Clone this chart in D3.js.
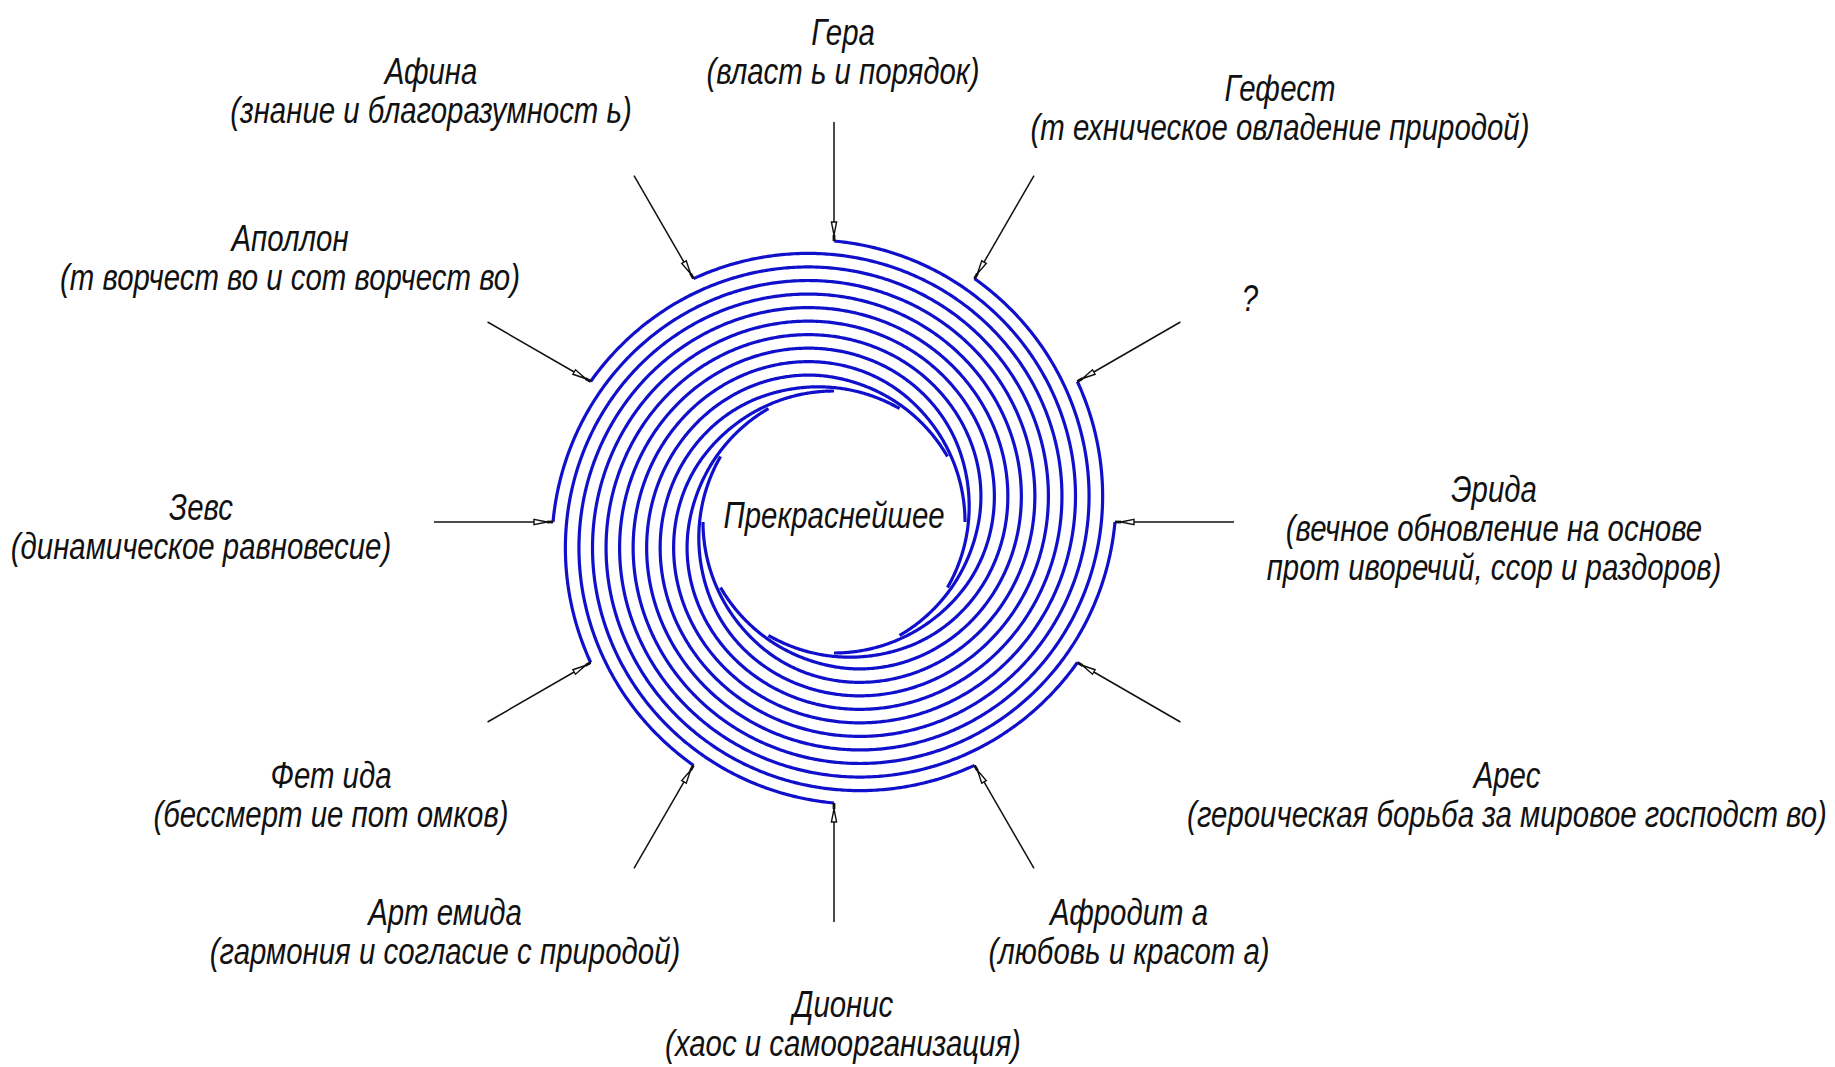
<!DOCTYPE html>
<html>
<head>
<meta charset="utf-8">
<script src="https://cdn.jsdelivr.net/npm/d3@7"></script>
<style>
  html, body { margin: 0; padding: 0; background: #ffffff; }
  #chart { width: 1835px; height: 1067px; }
</style>
</head>
<body>
<div id="chart"></div>
<script>
// Data: the twelve directions, clockwise from the top
const gods = ["Гера", "Гефест", "?", "Эрида", "Арес", "Афродит а",
              "Дионис", "Арт емида", "Фет ида", "Зевс", "Аполлон", "Афина"];
const roles = [
    ["(власт ь и порядок)"],
    ["(т ехническое овладение природой)"],
    [],
    ["(вечное обновление на основе", "прот иворечий, ссор и раздоров)"],
    ["(героическая борьба за мировое господст во)"],
    ["(любовь и красот а)"],
    ["(хаос и самоорганизация)"],
    ["(гармония и согласие с природой)"],
    ["(бессмерт ие пот омков)"],
    ["(динамическое равновесие)"],
    ["(т ворчест во и сот ворчест во)"],
    ["(знание и благоразумност ь)"]
];
const angles = [0, 30, 60, 90, 120, 150, 180, 210, 240, 270, 300, 330];
const centerLabel = "Прекраснейшее";

// Layout of label blocks (centre x, centre y of first line)
const labelPos = [
    [843, 32], [1280, 88], [1250, 298], [1494, 489], [1507, 775], [1129, 912],
    [843, 1004], [445, 912], [331, 775], [201, 507], [290, 238], [431, 71]
];

function makeChart(containerSelector) {
    const width = 1835;
    const height = 1067;
    const cx = 834, cy = 522;
    const rInner = 131, rOuter = 281;
    const arrowEnd = 400;
    const lineStep = 39;
    const fontSize = 37;

    d3.select(containerSelector).html("");

    const svg = d3.select(containerSelector)
        .append("svg")
        .attr("width", width)
        .attr("height", height)
        .attr("viewBox", `0 0 ${width} ${height}`)
        .attr("xmlns", "http://www.w3.org/2000/svg");

    svg.append("rect").attr("width", width).attr("height", height).attr("fill", "#fff");

    const g = svg.append("g").attr("transform", `translate(${cx},${cy})`);

    // angle / radius scales
    const angle = d3.scaleLinear().domain([0, 360]).range([0, 2 * Math.PI]);
    // arms hug the inner circle for the first t0 of their turn, then grow linearly
    const t0 = 2 / 12;
    const growth = t => (t < t0 ? t * t / (2 * t0) : t - t0 / 2);
    const radius = d3.scaleLinear().domain([0, growth(1)]).range([rInner, rOuter]);

    // spiral arms: each starts on the inner circle, winds once counter-clockwise
    // and ends at its arrow on the outside
    const steps = d3.range(0, 1.0001, 1 / 720);
    const spiral = d3.lineRadial()
        .angle(d => d.a)
        .radius(d => d.r);

    angles.forEach(a0 => {
        const pts = steps.map(t => ({ a: angle(a0) - t * 2 * Math.PI, r: radius(growth(t)) }));
        g.append("path")
            .datum(pts)
            .attr("d", spiral)
            .attr("fill", "none")
            .attr("stroke", "#1010cc")
            .attr("stroke-width", 3.2)
            .attr("stroke-linejoin", "round");
    });

    // arrows
    const polar = (deg, r) => {
        const t = angle(deg);
        return [r * Math.sin(t), -r * Math.cos(t)];
    };
    angles.forEach(a0 => {
        const p0 = polar(a0, arrowEnd);
        const p1 = polar(a0, rOuter);
        g.append("line")
            .attr("x1", p0[0]).attr("y1", p0[1])
            .attr("x2", p1[0]).attr("y2", p1[1])
            .attr("stroke", "#111")
            .attr("stroke-width", 1.5);
        // small open arrowhead just before the tip
        const t = angle(a0);
        const nx = Math.cos(t), ny = Math.sin(t);
        const tip = polar(a0, rOuter + 6);
        const base = polar(a0, rOuter + 19);
        const w = 2.6;
        g.append("path")
            .attr("d", `M${tip[0]},${tip[1]}L${base[0] + nx * w},${base[1] + ny * w}L${base[0] - nx * w},${base[1] - ny * w}Z`)
            .attr("fill", "#fff")
            .attr("stroke", "#111")
            .attr("stroke-width", 1.4);
        g.append("line")
            .attr("x1", tip[0]).attr("y1", tip[1])
            .attr("x2", p1[0]).attr("y2", p1[1])
            .attr("stroke", "#111")
            .attr("stroke-width", 2.8);
    });

    // text: narrow drafting-style lettering, squeezed horizontally
    const font = "'Liberation Sans', Arimo, sans-serif";
    const probe = svg.append("text")
        .style("font-family", font)
        .style("font-style", "italic")
        .style("font-size", fontSize + "px")
        .text(roles[4][0]);
    const sx = 640 / probe.node().getComputedTextLength();
    probe.remove();

    gods.forEach((name, i) => {
        const lines = [name].concat(roles[i]);
        const [lx, ly] = labelPos[i];
        const txt = svg.append("text")
            .attr("transform", `translate(${lx},${ly}) scale(${sx},1)`)
            .attr("text-anchor", "middle")
            .style("font-family", font)
            .style("font-style", "italic")
            .style("font-size", fontSize + "px")
            .style("fill", "#111");
        lines.forEach((s, j) => {
            txt.append("tspan")
                .attr("x", 0)
                .attr("y", j * lineStep + 13)
                .text(s);
        });
    });

    svg.append("text")
        .attr("transform", `translate(${cx},${cy + 6}) scale(${sx},1)`)
        .attr("text-anchor", "middle")
        .style("font-family", font)
        .style("font-style", "italic")
        .style("font-size", fontSize + "px")
        .style("fill", "#111")
        .text(centerLabel);

    return svg.node();
}

makeChart("#chart");
</script>
</body>
</html>
